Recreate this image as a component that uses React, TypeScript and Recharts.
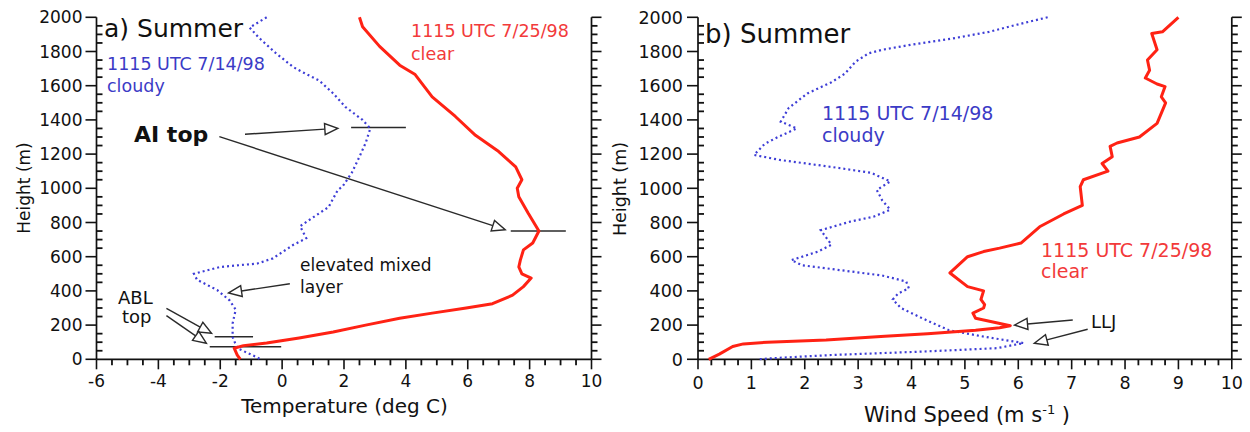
import React from 'react';
import { ScatterChart, Scatter, XAxis, YAxis, ReferenceLine } from 'recharts';

const FONT = '"DejaVu Sans", Verdana, sans-serif';
const INK = '#111111';
const LINE = '#2a2a2a';
const RED = '#ff2214';
const RED_TEXT = '#f23a3a';
const BLUE = '#3d3dd6';
const BLUE_TEXT = '#3b3bc6';

// axis ticks
const heightMajor = [0, 200, 400, 600, 800, 1000, 1200, 1400, 1600, 1800, 2000];
const tempMajor = [-6, -4, -2, 0, 2, 4, 6, 8, 10];
const windMajor = [0, 1, 2, 3, 4, 5, 6, 7, 8, 9, 10];

// a) temperature, 7/14/98 cloudy
const cloudyTempH = [2000, 1940, 1880, 1790, 1710, 1680, 1630, 1555, 1475, 1400, 1350, 1265, 1185, 1090, 1010, 990, 890, 830, 778, 708, 668, 590, 560, 540, 500, 465, 405, 345, 290, 210, 130, 65, 15, 0];
const cloudyTemp = [-0.5, -1.05, -0.75, -0.2, 0.35, 0.65, 1.2, 1.65, 2.05, 2.6, 2.85, 2.7, 2.5, 2.25, 1.95, 1.8, 1.5, 1.0, 0.58, 0.78, 0.35, -0.3, -0.8, -2.0, -2.85, -2.75, -2.1, -1.7, -1.5, -1.6, -1.6, -1.45, -0.85, -0.7];

// a) temperature, 7/25/98 clear
const clearTempH = [2000, 1945, 1830, 1720, 1665, 1535, 1420, 1310, 1215, 1125, 1050, 1000, 950, 855, 750, 680, 640, 580, 540, 500, 475, 425, 375, 325, 300, 270, 240, 200, 160, 125, 95, 80, 65, 25, 0];
const clearTemp = [2.5, 2.6, 3.15, 3.8, 4.3, 4.85, 5.6, 6.25, 7.0, 7.55, 7.75, 7.6, 7.65, 7.95, 8.3, 8.1, 7.8, 7.7, 7.65, 7.75, 8.05, 7.8, 7.45, 6.8, 5.95, 4.85, 3.8, 2.7, 1.65, 0.55, -0.5, -1.25, -1.55, -1.45, -1.35];

// b) wind speed, 7/14/98 cloudy
const cloudyWindH = [2000, 1955, 1915, 1875, 1840, 1810, 1790, 1740, 1670, 1620, 1555, 1470, 1390, 1350, 1300, 1260, 1195, 1165, 1125, 1090, 1040, 990, 930, 875, 835, 805, 755, 670, 630, 580, 550, 490, 455, 415, 385, 350, 300, 240, 170, 130, 95, 65, 45, 25, 10, 0];
const cloudyWind = [6.55, 5.95, 5.45, 4.75, 4.0, 3.45, 3.2, 2.95, 2.75, 2.5, 2.05, 1.7, 1.55, 1.85, 1.5, 1.25, 1.05, 1.55, 2.5, 3.25, 3.6, 3.35, 3.45, 3.6, 3.3, 2.85, 2.3, 2.5, 2.25, 1.75, 1.95, 3.45, 3.9, 3.95, 3.75, 3.65, 3.8, 4.2, 4.7, 5.4, 6.1, 5.6, 4.2, 2.5, 1.6, 1.1];

// b) wind speed, 7/25/98 clear
const clearWindH = [2000, 1915, 1905, 1810, 1750, 1690, 1645, 1610, 1595, 1535, 1500, 1380, 1300, 1265, 1245, 1185, 1145, 1100, 1050, 1010, 900, 850, 775, 680, 650, 630, 600, 505, 425, 400, 350, 320, 300, 270, 240, 196, 185, 170, 150, 135, 113, 100, 90, 75, 30, 0];
const clearWind = [9.0, 8.7, 8.5, 8.6, 8.42, 8.46, 8.38, 8.6, 8.75, 8.68, 8.76, 8.6, 8.27, 7.85, 7.72, 7.76, 7.57, 7.68, 7.22, 7.16, 7.2, 6.85, 6.4, 6.05, 5.65, 5.35, 5.05, 4.72, 5.05, 5.35, 5.3, 5.37, 5.35, 5.15, 5.2, 5.85, 5.65, 5.2, 4.3, 3.5, 2.4, 1.3, 0.85, 0.65, 0.4, 0.2];

// annotation segments [x1, h1, x2, h2]
const tempArrows = [
  [-1.2, 1316, 1.8, 1351],
  [-2.03, 1302, 7.21, 758],
  [0.25, 442, -1.73, 388],
  [-3.74, 298, -2.28, 152],
  [-3.74, 255, -2.45, 94],
];
const tempMarks = [
  [2.23, 1355, 4.0, 1355],
  [7.39, 750, 9.17, 750],
  [-2.18, 132, -0.94, 132],
  [-2.34, 74, -0.03, 74],
];
const windArrows = [
  [7.02, 230, 5.93, 200],
  [7.3, 176, 6.3, 94],
];

const zip = (hs: number[], vs: number[]) => hs.map((h, i) => ({ h, v: vs[i] }));

// values between the major ticks
const minorsOf = (major: number[], parts: number) =>
  major.slice(1).flatMap((v, i) => {
    const step = (v - major[i]) / parts;
    return Array.from({ length: parts - 1 }, (_, k) => major[i] + step * (k + 1));
  });

const arrowShape = (p: any) => {
  const { x1, y1, x2, y2 } = p;
  const dx = x2 - x1;
  const dy = y2 - y1;
  const len = Math.hypot(dx, dy) || 1;
  const ux = dx / len;
  const uy = dy / len;
  const L = 13;
  const W = 5.5;
  const bx = x2 - ux * L;
  const by = y2 - uy * L;
  const pts = `${x2},${y2} ${bx - uy * W},${by + ux * W} ${bx + uy * W},${by - ux * W}`;
  return (
    <g>
      <line x1={x1} y1={y1} x2={bx} y2={by} stroke={LINE} strokeWidth={1.4} />
      <polygon points={pts} fill="#fff" stroke={LINE} strokeWidth={1.4} />
    </g>
  );
};

// minor tick marks as scatter symbols on the axes (main axes have no
// allowDataOverflow, so the symbols are not clipped to the plot area)
const minorShape = (dx: number, dy: number) => (p: any) => {
  const { cx, cy } = p;
  if (cx == null || cy == null) return <g />;
  return <line x1={cx} y1={cy} x2={cx + dx} y2={cy + dy} stroke={INK} strokeWidth={1.8} />;
};

interface PanelProps {
  width: number;
  margin: { top: number; right: number; bottom: number; left: number };
  xDomain: [number, number];
  xMajor: number[];
  xParts: number;
  cloudy: { h: number; v: number }[];
  clear: { h: number; v: number }[];
  arrows: number[][];
  marks: number[][];
  fontSize: number;
  yGap: number;
  xLabelDy: number;
}

const Panel = ({ width, margin, xDomain, xMajor, xParts, cloudy, clear, arrows, marks, fontSize, yGap, xLabelDy }: PanelProps) => {
  const yMinor = minorsOf(heightMajor, 4);
  const xMinor = minorsOf(xMajor, xParts);
  const leftMinor = yMinor.map((h) => ({ h, v: xDomain[0] }));
  const rightMinor = yMinor.map((h) => ({ h, v: xDomain[1] }));
  const bottomMinor = xMinor.map((v) => ({ h: 0, v }));

  const leftTick = ({ x, y, payload }: any) => (
    <g>
      <line x1={x - 11} x2={x} y1={y} y2={y} stroke={INK} strokeWidth={1.6} />
      <text x={x - yGap} y={y} dy="0.36em" textAnchor="end" fontSize={fontSize} fontFamily={FONT} fill={INK}>
        {payload.value}
      </text>
    </g>
  );
  const rightTick = ({ x, y }: any) => <line x1={x} x2={x + 10} y1={y} y2={y} stroke={INK} strokeWidth={1.6} />;
  const bottomTick = ({ x, y, payload }: any) => (
    <g>
      <line x1={x} x2={x} y1={y} y2={y + 10} stroke={INK} strokeWidth={1.6} />
      <text x={x} y={y + xLabelDy} textAnchor="middle" fontSize={fontSize} fontFamily={FONT} fill={INK}>
        {payload.value}
      </text>
    </g>
  );

  return (
    <ScatterChart width={width} height={432} margin={margin}>
      <XAxis
        type="number"
        dataKey="v"
        domain={xDomain}
        ticks={xMajor}
        interval={0}
        height={40}
        tickSize={0}
        tickMargin={0}
        axisLine={{ stroke: INK, strokeWidth: 1.7 }}
        tick={bottomTick}
      />
      <YAxis
        type="number"
        dataKey="h"
        domain={[0, 2000]}
        ticks={heightMajor}
        interval={0}
        width={60}
        tickSize={0}
        tickMargin={0}
        axisLine={{ stroke: INK, strokeWidth: 1.7 }}
        tick={leftTick}
      />
      <YAxis
        yAxisId="r"
        orientation="right"
        type="number"
        domain={[0, 2000]}
        ticks={heightMajor}
        interval={0}
        allowDataOverflow
        width={16}
        tickSize={0}
        tickMargin={0}
        axisLine={{ stroke: INK, strokeWidth: 1.7 }}
        tick={rightTick}
      />
      <Scatter data={leftMinor} shape={minorShape(6, 0)} isAnimationActive={false} />
      <Scatter data={rightMinor} shape={minorShape(6, 0)} isAnimationActive={false} />
      <Scatter data={bottomMinor} shape={minorShape(0, 6)} isAnimationActive={false} />
      <Scatter
        data={cloudy}
        line={{ stroke: BLUE, strokeWidth: 2.2, strokeDasharray: '2 3', fill: 'none' }}
        lineType="joint"
        shape={() => <g />}
        isAnimationActive={false}
      />
      <Scatter
        data={clear}
        line={{ stroke: RED, strokeWidth: 3, strokeLinejoin: 'round', fill: 'none' }}
        lineType="joint"
        shape={() => <g />}
        isAnimationActive={false}
      />
      {marks.map((m, i) => (
        <ReferenceLine
          key={`m${i}`}
          segment={[{ x: m[0], y: m[1] }, { x: m[2], y: m[3] }]}
          stroke={LINE}
          strokeWidth={1.5}
          ifOverflow="visible"
        />
      ))}
      {arrows.map((a, i) => (
        <ReferenceLine
          key={`a${i}`}
          segment={[{ x: a[0], y: a[1] }, { x: a[2], y: a[3] }]}
          stroke={LINE}
          ifOverflow="visible"
          shape={arrowShape}
        />
      ))}
    </ScatterChart>
  );
};

const T = (props: any) => <text fontFamily={FONT} fill={INK} {...props} />;

export default function App() {
  return (
    <div style={{ position: 'absolute', left: 0, top: 0, width: 1250, height: 432, background: '#fff', overflow: 'hidden' }}>
      <div style={{ position: 'absolute', left: 0, top: 0 }}>
        <Panel
          width={620}
          margin={{ top: 17.3, right: 12.5, bottom: 32.7, left: 36.5 }}
          xDomain={[-6, 10]}
          xMajor={tempMajor}
          xParts={4}
          cloudy={zip(cloudyTempH, cloudyTemp)}
          clear={zip(clearTempH, clearTemp)}
          arrows={tempArrows}
          marks={tempMarks}
          fontSize={17}
          yGap={14}
          xLabelDy={28}
        />
      </div>
      <div style={{ position: 'absolute', left: 625, top: 0 }}>
        <Panel
          width={625}
          margin={{ top: 17.3, right: 2.2, bottom: 32.7, left: 13 }}
          xDomain={[0, 10]}
          xMajor={windMajor}
          xParts={4}
          cloudy={zip(cloudyWindH, cloudyWind)}
          clear={zip(clearWindH, clearWind)}
          arrows={windArrows}
          marks={[]}
          fontSize={17.5}
          yGap={15}
          xLabelDy={30}
        />
      </div>
      <svg width={1250} height={432} style={{ position: 'absolute', left: 0, top: 0, pointerEvents: 'none' }}>
        {/* panel a */}
        <T x={104} y={37} fontSize={25}>a) Summer</T>
        <T x={107} y={70} fontSize={17.5} fill={BLUE_TEXT}>1115 UTC 7/14/98</T>
        <T x={107} y={92} fontSize={17.5} fill={BLUE_TEXT}>cloudy</T>
        <T x={411} y={37} fontSize={17.5} fill={RED_TEXT}>1115 UTC 7/25/98</T>
        <T x={411} y={60} fontSize={17.5} fill={RED_TEXT}>clear</T>
        <T x={134} y={142} fontSize={22} fontWeight="bold">AI top</T>
        <T x={300} y={271} fontSize={17}>elevated mixed</T>
        <T x={300} y={293} fontSize={17}>layer</T>
        <T x={118} y={304} fontSize={18}>ABL</T>
        <T x={122} y={323} fontSize={18}>top</T>
        <T x={344.5} y={413} fontSize={20} textAnchor="middle">Temperature (deg C)</T>
        <T transform="translate(24,188) rotate(-90)" fontSize={17} textAnchor="middle" dominantBaseline="central">Height (m)</T>
        {/* panel b */}
        <T x={705} y={43} fontSize={26}>b) Summer</T>
        <T x={822} y={120} fontSize={19} fill={BLUE_TEXT}>1115 UTC 7/14/98</T>
        <T x={822} y={142} fontSize={19} fill={BLUE_TEXT}>cloudy</T>
        <T x={1041} y={257} fontSize={19} fill={RED_TEXT}>1115 UTC 7/25/98</T>
        <T x={1041} y={278} fontSize={19} fill={RED_TEXT}>clear</T>
        <T x={1091} y={328} fontSize={18}>LLJ</T>
        <T x={967} y={422} fontSize={21} textAnchor="middle">
          Wind Speed (m s<tspan dy={-8} fontSize={13}>-1</tspan><tspan dy={8}> )</tspan>
        </T>
        <T transform="translate(620,189) rotate(-90)" fontSize={17.5} textAnchor="middle" dominantBaseline="central">Height (m)</T>
      </svg>
    </div>
  );
}
